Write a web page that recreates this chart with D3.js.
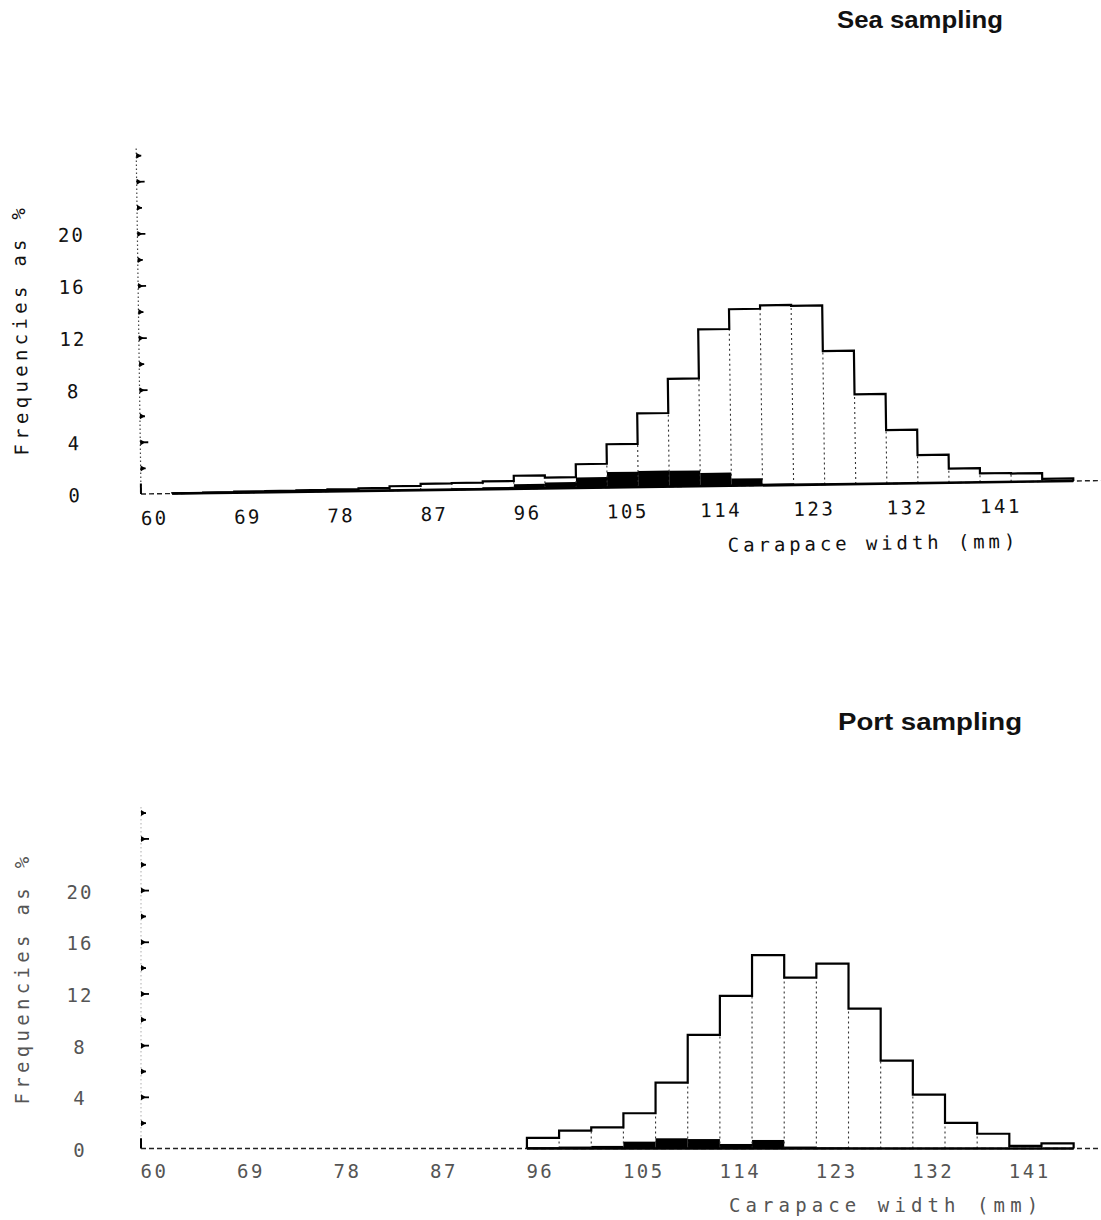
<!DOCTYPE html>
<html><head><meta charset="utf-8">
<script src="https://cdn.jsdelivr.net/npm/d3@7"></script>
<style>body{margin:0;background:#fff}svg{display:block}</style>
</head><body>
<svg id="c" width="1101" height="1220"></svg>
<script>
// ---- data ----
const binStarts = [60,63,66,69,72,75,78,81,84,87,90,93,96,99,102,105,108,111,114,117,120,123,126,129,132,135,138,141,144,147];
const binWidth = 3;
const seaTotal = [0,0.02,0.05,0.08,0.1,0.12,0.15,0.2,0.33,0.48,0.51,0.6,1.0,0.83,1.82,3.32,5.65,8.27,12.03,13.55,13.81,13.74,10.23,6.88,4.10,2.15,1.09,0.68,0.64,0.2];
const seaDark  = [0,0,0,0,0,0,0,0,0,0,0.1,0.15,0.35,0.45,0.8,1.18,1.24,1.21,1.02,0.55,0.12,0.08,0.06,0.04,0.03,0,0,0,0,0];
const portTotal = [0,0,0,0,0,0,0,0,0,0,0,0,0.83,1.39,1.64,2.73,5.1,8.8,11.81,14.96,13.23,14.31,10.83,6.8,4.17,1.98,1.14,0.2,0.4,0];
const portDark  = [0,0,0,0,0,0,0,0,0,0,0,0,0.1,0.15,0.2,0.53,0.79,0.73,0.35,0.66,0.15,0.08,0.05,0,0,0,0,0,0,0];
const xTickLabels = [60,69,78,87,96,105,114,123,132,141];
const yTickLabels = [0,4,8,12,16,20];
const yMinorTicks = [2,4,6,8,10,12,14,16,18,20,22,24,26];
const panelTitles = ["Sea sampling","Port sampling"];
const xTitle = "Carapace width (mm)";
const yTitle = "Frequencies as %";

const svg = d3.select("#c");
svg.append("rect").attr("width",1101).attr("height",1220).attr("fill","#fff");
const mono = "'DejaVu Sans Mono', 'Liberation Mono', monospace";

function panel(cfg){
  const g = svg.append("g").attr("transform", `translate(${cfg.ox},${cfg.oy}) rotate(${cfg.rot})`);
  const x = d3.scaleLinear().domain([60,150]).range([0, cfg.xw]);
  const y = d3.scaleLinear().domain([0,26]).range([0, -26*cfg.unit]);
  const bins = binStarts.map((s,i)=>({s, v:cfg.total[i], d:cfg.dark[i]}));

  // baseline (dashed full extent)
  g.append("line").attr("x1",0).attr("x2",cfg.baseEnd).attr("y1",0).attr("y2",0)
    .attr("stroke","#222").attr("stroke-width",1.4).attr("stroke-dasharray","5,3");

  // dark bars
  g.selectAll("rect.dark").data(bins.filter(b=>b.d>0)).join("rect")
    .attr("x", b=>x(b.s)).attr("width", b=>x(b.s+binWidth)-x(b.s))
    .attr("y", b=>y(b.d)).attr("height", b=>y(0)-y(b.d)).attr("fill","#000");

  // dotted separators
  const seps = [];
  for(let i=1;i<bins.length;i++){
    const m = Math.min(bins[i-1].v, bins[i].v);
    if(m>0) seps.push({e:bins[i].s, m});
  }
  g.selectAll("line.sep").data(seps).join("line")
    .attr("x1", d=>x(d.e)).attr("x2", d=>x(d.e)).attr("y1", y(0)).attr("y2", d=>y(d.m))
    .attr("stroke","#333").attr("stroke-width",1.1).attr("stroke-dasharray","2,3");

  // envelope
  const nz = bins.map((b,i)=>b.v>0?i:-1).filter(i=>i>=0);
  const f = nz[0], l = nz[nz.length-1];
  const pts = [[bins[f].s,0]];
  for(let i=f;i<=l;i++) pts.push([bins[i].s, bins[i].v]);
  pts.push([bins[l].s+binWidth, bins[l].v]);
  pts.push([bins[l].s+binWidth, 0]);
  const line = d3.line().x(d=>x(d[0])).y(d=>y(d[1])).curve(d3.curveStepAfter);
  g.append("path").attr("d", line(pts)).attr("fill","none").attr("stroke","#000")
    .attr("stroke-width",2.2).attr("stroke-linejoin","miter");
  g.append("line").attr("x1",x(bins[f].s)).attr("x2",x(bins[l].s+binWidth)).attr("y1",0).attr("y2",0)
    .attr("stroke","#000").attr("stroke-width",2.6);

  // y axis line (dotted)
  g.append("line").attr("x1",0).attr("x2",0).attr("y1",0).attr("y2",y(26.6))
    .attr("stroke",cfg.axisCol).attr("stroke-width",1.2).attr("stroke-dasharray","1.5,2.5");
  g.append("line").attr("x1",0).attr("x2",0).attr("y1",0).attr("y2",y(0.8))
    .attr("stroke","#000").attr("stroke-width",2);

  // tick marks via d3 axis
  const ax = g.append("g").call(d3.axisRight(y).tickValues(yMinorTicks).tickSize(6).tickFormat(""));
  ax.select(".domain").remove();
  ax.selectAll(".tick line").attr("stroke","#000").attr("stroke-width",1.8)
    .attr("x2", d=> d%4===0 ? 8 : 5);
  ax.selectAll(".tick").append("path").attr("d","M0,-3L5,0L0,3Z").attr("fill","#000");

  // y labels
  const ay = g.append("g").call(d3.axisLeft(y).tickValues(yTickLabels).tickSize(0).tickFormat(d3.format("d")));
  ay.select(".domain").remove();
  ay.selectAll(".tick text").attr("x", cfg.yLabX).attr("text-anchor","middle").attr("dy", cfg.yLabDy)
    .attr("font-family",mono).attr("font-size",19).attr("fill",cfg.textCol).style("letter-spacing","2px");

  // x labels
  const axb = g.append("g").call(d3.axisBottom(x).tickValues(xTickLabels).tickSize(0).tickFormat(d3.format("d")));
  axb.select(".domain").remove();
  axb.selectAll(".tick text").attr("text-anchor","start").attr("x",-1).attr("y",0).attr("dy",cfg.xLabY)
    .attr("font-family",mono).attr("font-size",19).attr("fill",cfg.textCol).style("letter-spacing","2.5px");

  // x title
  g.append("text").attr("x", cfg.xtX).attr("y", cfg.xtY).text(xTitle)
    .attr("font-family",mono).attr("font-size",19).attr("fill",cfg.textCol)
    .style("letter-spacing", cfg.xtLs+"px");

  // y title
  g.append("text").attr("transform",`translate(${cfg.ytX},${cfg.ytY}) rotate(-90)`)
    .attr("text-anchor","middle").text(yTitle)
    .attr("font-family",mono).attr("font-size",19).attr("fill",cfg.textCol).style("letter-spacing","4.3px");
}

panel({ox:141, oy:494, rot:-0.8, xw:932.4, unit:13.03, total:seaTotal, dark:seaDark,
  baseEnd:965, axisCol:"#444", textCol:"#111", yLabX:-66, yLabDy:"0.36em", xLabY:31,
  xtX:586, xtY:66, xtLs:3.9, ytX:-112, ytY:-166});
panel({ox:141, oy:1148.5, rot:0, xw:964.8, unit:12.92, total:portTotal, dark:portDark,
  baseEnd:960, axisCol:"#bbb", textCol:"#555", yLabX:-61, yLabDy:"0.42em", xLabY:29,
  xtX:588, xtY:63.5, xtLs:5.1, ytX:-112, ytY:-170});

// panel titles
svg.append("text").attr("x",837).attr("y",28).text(panelTitles[0])
  .attr("font-family","'Liberation Sans', Arial, sans-serif").attr("font-size",23).attr("font-weight","bold")
  .attr("textLength",166).attr("lengthAdjust","spacingAndGlyphs").attr("fill","#111");
svg.append("text").attr("x",838).attr("y",730).text(panelTitles[1])
  .attr("font-family","'Liberation Sans', Arial, sans-serif").attr("font-size",23).attr("font-weight","bold")
  .attr("textLength",184).attr("lengthAdjust","spacingAndGlyphs").attr("fill","#111");
</script>
</body></html>
